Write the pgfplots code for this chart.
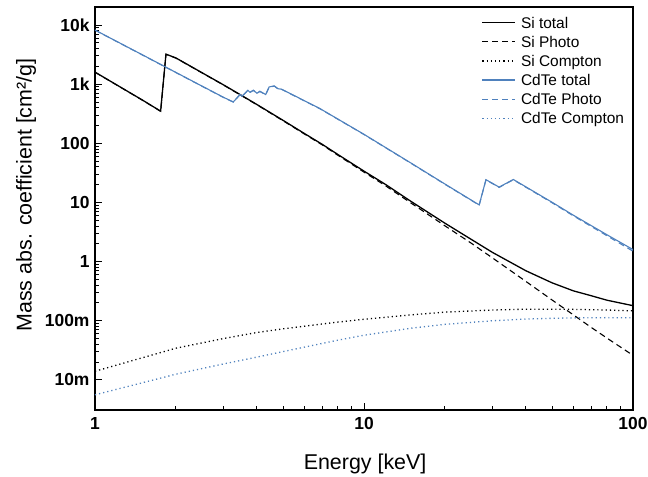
\documentclass[border=0pt]{standalone}
\usepackage{fontspec}
\setmainfont{Liberation Sans}
\usepackage{pgfplots}
\pgfplotsset{compat=1.18}
\definecolor{cdteblue}{RGB}{79,129,189}

\begin{document}
\begin{tikzpicture}
\begin{axis}[
  at={(0,0)}, anchor=south west,
  scale only axis, width=538bp, height=403bp,
  xmode=log, ymode=log,
  xmin=1, xmax=100, ymin=3.1e-3, ymax=2.02e4,
  axis line style={line width=1.3bp},
  tick align=inside,
  tick style={black, line width=1bp},
  major tick length=7bp, minor tick length=4.5bp,
  xtick={1,10,100}, xticklabels={1,10,100},
  ytick={0.01,0.1,1,10,100,1000,10000},
  yticklabels={10m,100m,1,10,100,1k,10k},
  xtick pos=bottom, ytick pos=left,
  ticklabel style={font=\fontsize{17.5}{20}\selectfont\bfseries},
  xticklabel style={yshift=-4bp},
  yticklabel style={xshift=-2bp},
  xlabel={Energy [keV]},
  ylabel={Mass abs. coefficient [cm²/g]},
  label style={font=\fontsize{21.5}{24}\selectfont},
  xlabel style={at={(axis description cs:0.502,-0.1464)}, anchor=base},
  ylabel style={at={(axis description cs:-0.1177,0.5335)}, anchor=base},
  no markers,
  legend style={draw=none, fill=none, at={(axis description cs:0.7188,0.9769)},
    anchor=north west, inner sep=0pt, outer sep=0pt,
    font=\fontsize{15.5}{18}\selectfont,
    nodes={inner sep=0pt, text height=12bp, text depth=0.8bp, anchor=west},
    row sep=6.3bp, column sep=5bp},
  legend cell align=left,
  legend image code/.code={\draw[#1] (0bp,0bp) -- (33bp,0bp);},
]
% Silicon
\addplot[black, line width=1.3bp] coordinates {
 (1,1600)(1.5,540)(1.754,350)(1.836,3220)(2,2777)(2.5,1563)(3,978)(3.5,649)
 (4,453)(5,245)(6,147)(7,96)(8,64.7)(10,33.9)(12,20.3)(15,10.34)(20,4.46)
 (25,2.39)(30,1.436)(40,0.70)(50,0.4385)(60,0.3207)(70,0.265)(80,0.2228)(100,0.18)};
\addlegendentry{Si total}
\addplot[black, line width=1.1bp, dash pattern=on 6bp off 4bp] coordinates {
 (1,1595)(1.5,537)(1.754,348)(1.836,3200)(2,2760)(2.5,1553)(3,971)(3.5,643)
 (4,448)(5,241)(6,144)(7,94)(8,62.8)(10,32.6)(12,19.3)(15,9.7)(20,4.03)
 (25,2.06)(30,1.16)(40,0.462)(50,0.225)(60,0.126)(70,0.077)(80,0.051)(100,0.026)};
\addlegendentry{Si Photo}
\addplot[black, line width=1.3bp, dash pattern=on 1.2bp off 3bp] coordinates {
 (1,0.014)(1.5,0.0237)(2,0.0344)(3,0.050)(4,0.0634)(5,0.073)(6,0.081)(8,0.095)
 (10,0.106)(15,0.126)(20,0.140)(30,0.152)(40,0.157)(50,0.157)(60,0.156)
 (80,0.152)(100,0.147)};
\addlegendentry{Si Compton}
% Cadmium telluride
\addplot[cdteblue, line width=1.1bp] coordinates {
 (1,8230)(1.5,3140)(2,1580)(2.5,928)(3,602)(3.267,501)(3.46,669)(3.52,626)
 (3.70,791)(3.77,731)(3.88,791)(4.00,703)(4.10,760)(4.31,669)(4.44,899)
 (4.64,935)(4.79,839)(4.94,823)(6.86,387)(10,142)(15,46)(20,20.5)(26.8,9.1)
 (28.4,24.3)(31.8,18.2)(35.9,24.5)(50,10.1)(60,6.1)(80,2.85)(100,1.6)};
\addlegendentry{CdTe total}
\addplot[cdteblue, line width=1.1bp, dash pattern=on 6bp off 4bp] coordinates {
 (1,8190)(1.5,3120)(2,1570)(2.5,922)(3,598)(3.267,498)(3.46,665)(3.52,622)
 (3.70,786)(3.77,726)(3.88,786)(4.00,698)(4.10,755)(4.31,665)(4.44,893)
 (4.64,929)(4.79,833)(4.94,817)(6.86,384)(10,141)(15,45.6)(20,20.3)(26.8,9.0)
 (28.4,24.1)(31.8,18.0)(35.9,24.2)(50,9.9)(60,5.95)(80,2.74)(100,1.5)};
\addlegendentry{CdTe Photo}
\addplot[cdteblue, line width=1.3bp, dash pattern=on 1.2bp off 3bp] coordinates {
 (1,0.0056)(1.5,0.00895)(2,0.0125)(3,0.0186)(4,0.0243)(5,0.0301)(6,0.0358)
 (8,0.047)(10,0.057)(15,0.075)(20,0.087)(30,0.100)(40,0.107)(50,0.110)
 (60,0.112)(80,0.113)(100,0.112)};
\addlegendentry{CdTe Compton}
\end{axis}
\pgfresetboundingbox
\path[use as bounding box] (-95bp,-67bp) rectangle (553bp,410bp);
\end{tikzpicture}
\end{document}
